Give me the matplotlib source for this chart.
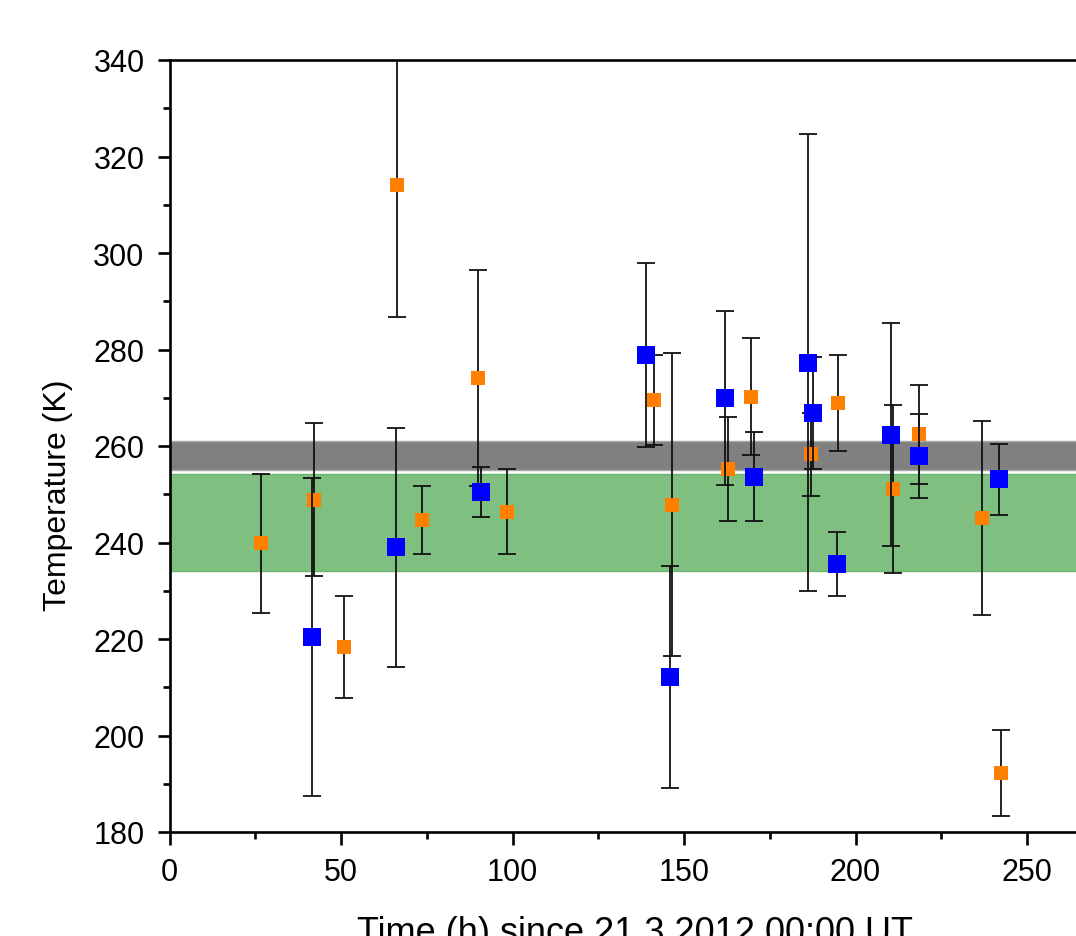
import matplotlib
matplotlib.use("Agg")
import matplotlib.pyplot as plt
from matplotlib.ticker import MultipleLocator

plt.rcParams['font.family'] = ['Liberation Sans', 'DejaVu Sans']

# ---- data ----
orange_x = [26.6, 42.0, 51.0, 66.4, 73.5, 90.0, 98.4, 141.2, 146.4, 162.9, 169.4,
            187.0, 195.0, 210.9, 218.5, 237.0, 242.4]
orange_y = [239.8, 248.9, 218.4, 314.1, 244.7, 274.1, 246.4, 269.6, 247.8, 255.2, 270.2,
            258.3, 268.9, 251.0, 262.4, 245.0, 192.2]
orange_err = [14.5, 15.8, 10.6, 27.3, 7.1, 22.4, 8.8, 9.3, 31.4, 10.8, 12.1,
              8.6, 10.0, 17.4, 10.3, 20.1, 8.9]

blue_x = [41.5, 66.0, 90.9, 139.0, 145.9, 161.9, 170.5, 186.1, 187.5, 194.5, 210.4, 218.5, 241.9]
blue_y = [220.4, 239.0, 250.5, 278.9, 212.1, 269.9, 253.6, 277.3, 266.8, 235.5, 262.3, 257.9, 253.1]
blue_err = [32.9, 24.7, 5.2, 19.1, 23.0, 18.0, 9.2, 47.4, 11.6, 6.6, 23.1, 8.7, 7.4]

gray_band = (255.0, 261.0)
green_band = (234.0, 254.2)

x_ticks = [0, 50, 100, 150, 200, 250]
y_ticks = [180, 200, 220, 240, 260, 280, 300, 320, 340]

# ---- figure ----
W, H = 1076, 937
fig = plt.figure(figsize=(W / 100, H / 100), dpi=100)
x0, x1 = 169.5, 169.5 + 270 * 3.43
ytop, ybot = 61, 833
ax = fig.add_axes([x0 / W, 1 - ybot / H, (x1 - x0) / W, (ybot - ytop) / H])

ax.axhspan(*gray_band, facecolor='#808080', edgecolor='#a8a8a8', lw=1.0, zorder=1)
ax.axhspan(*green_band, facecolor='#7fbf7f', edgecolor='#6cb56c', lw=1.0, zorder=1)

eb_kw = dict(fmt='none', ecolor='#111111', elinewidth=1.3, capsize=6.5, capthick=1.3)
ax.errorbar(orange_x, orange_y, yerr=orange_err, zorder=3, **eb_kw)
ax.plot(orange_x, orange_y, 's', color='#ff8000', markersize=10.5,
        markeredgewidth=0, linestyle='none', zorder=3.5)
ax.errorbar(blue_x, blue_y, yerr=blue_err, zorder=4, **eb_kw)
ax.plot(blue_x, blue_y, 's', color='#0000ff', markersize=12.5,
        markeredgewidth=0, linestyle='none', zorder=4.5)

ax.set_xlim(0, 270)
ax.set_ylim(180, 340)
ax.set_xticks(x_ticks)
ax.set_yticks(y_ticks)
ax.xaxis.set_minor_locator(MultipleLocator(25))
ax.yaxis.set_minor_locator(MultipleLocator(10))

for s in ['left', 'bottom', 'top', 'right']:
    ax.spines[s].set_linewidth(1.9)
ax.tick_params(which='major', direction='out', length=9, width=1.9, labelsize=22, pad=9)
ax.tick_params(which='minor', direction='out', length=5, width=1.9)
ax.tick_params(top=False, right=False, which='both')

fig.text(58 / W, 1 - 495 / H, 'Temperature (K)', rotation=90, ha='center', va='center',
         fontsize=23)
fig.text(635 / W, 1 - 943 / H, 'Time (h) since 21.3.2012 00:00 UT', ha='center',
         va='baseline', fontsize=26)

fig.savefig('out.png', dpi=100)
